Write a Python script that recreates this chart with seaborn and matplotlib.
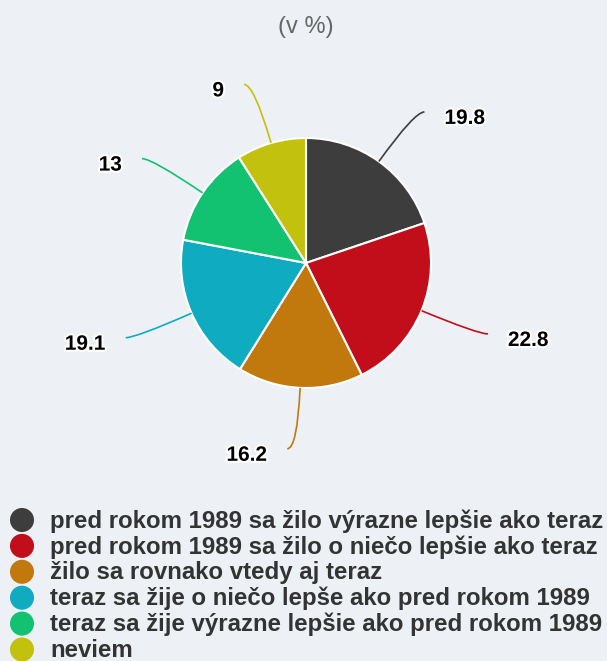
import numpy as np
import seaborn as sns
import matplotlib.pyplot as plt
import matplotlib.patheffects as pe
from matplotlib.path import Path
from matplotlib.patches import PathPatch

# Data
categories = [
    "pred rokom 1989 sa žilo výrazne lepšie ako teraz",
    "pred rokom 1989 sa žilo o niečo lepšie ako teraz",
    "žilo sa rovnako vtedy aj teraz",
    "teraz sa žije o niečo lepše ako pred rokom 1989",
    "teraz sa žije výrazne lepšie ako pred rokom 1989",
    "neviem",
]
values = [19.8, 22.8, 16.2, 19.1, 13, 9]
value_labels = ["19.8", "22.8", "16.2", "19.1", "13", "9"]
colors = ["#3d3d3d", "#c20e1a", "#c1790e", "#0eabc1", "#12c270", "#c1c10e"]

bg = "#edf1f6"
sns.set_style("white", {"axes.facecolor": bg, "figure.facecolor": bg})
plt.rcParams["font.family"] = ["Liberation Sans", "DejaVu Sans"]

W, H = 607, 661
fig = plt.figure(figsize=(W / 100, H / 100), dpi=100)
ax = fig.add_axes([0, 0, 1, 1])

# pie in pixel-like data units (y up)
cx, cy, r = 306, H - 263, 125
palette = sns.color_palette(colors)
ax.pie(values, colors=palette, startangle=90, counterclock=False,
       center=(cx, cy), radius=r,
       wedgeprops=dict(edgecolor="white", linewidth=1.5))
ax.set_xlim(0, W)
ax.set_ylim(0, H)
ax.set_aspect("equal")
ax.axis("off")

# connectors + data labels
total = sum(values)
cum = np.cumsum([0] + values[:-1])
d = 61
for v, start, lab, col in zip(values, cum, value_labels, palette):
    theta = np.deg2rad((start + v / 2) / total * 360)
    u = np.array([np.sin(theta), np.cos(theta)])
    side = 1 if u[0] >= 0 else -1
    p0 = np.array([cx, cy]) + r * u
    ctrl = np.array([cx, cy]) + (r + d) * u
    p2 = ctrl + np.array([side * 10, 0])
    path = Path([p0, ctrl, p2], [Path.MOVETO, Path.CURVE3, Path.CURVE3])
    ax.add_patch(PathPatch(path, fill=False, edgecolor=col, lw=1.2))
    ax.text(p2[0] + side * 20, p2[1] - 12, lab, ha="left" if side > 0 else "right",
            va="baseline", fontsize=15, fontweight="bold", color="black",
            path_effects=[pe.withStroke(linewidth=3, foreground="white")])

ax.text(W / 2 + 2, H - 27, "(v %)", ha="center", va="center",
        fontsize=17, color="#666666")

# legend
for i, (cat, col) in enumerate(zip(categories, palette)):
    y = H - (520 + 25.9 * i)
    ax.scatter([22], [y], s=300, color=col, edgecolor="none", clip_on=False)
    ax.text(50, y - 1, cat, ha="left", va="center", fontsize=17.3,
            fontweight="bold", color="#333333")

fig.savefig("out.png", dpi=100, facecolor=bg)
